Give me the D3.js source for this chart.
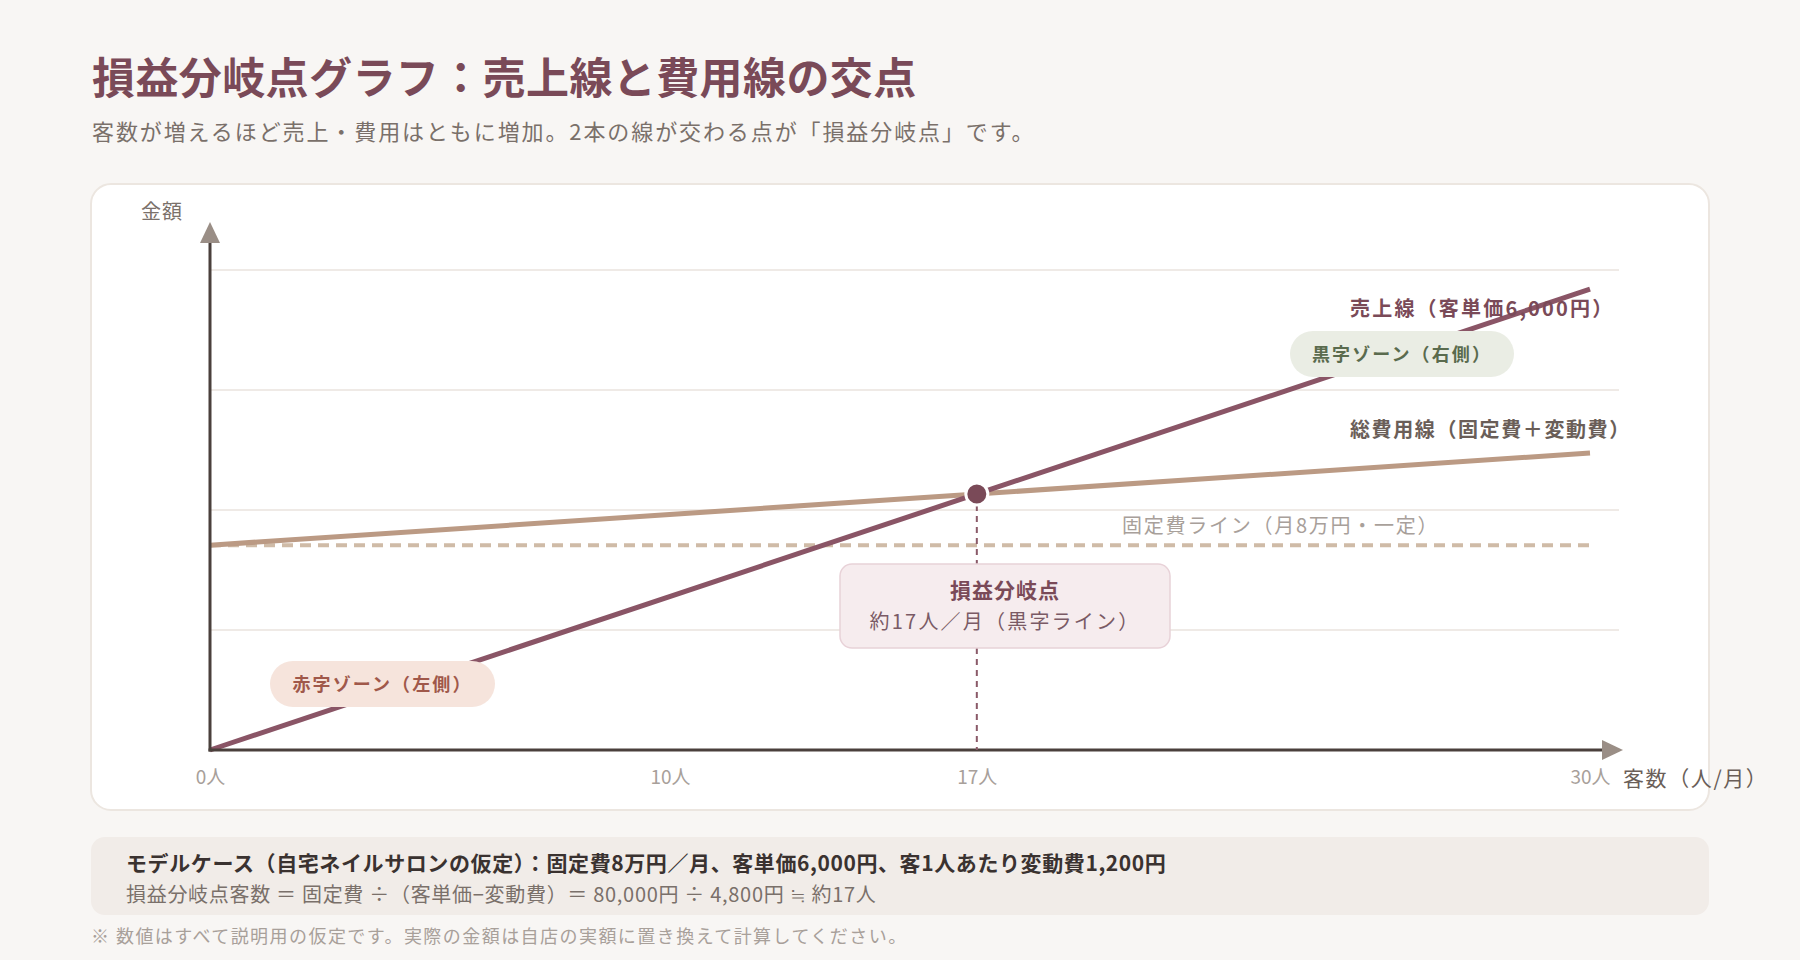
<!DOCTYPE html>
<html lang="ja">
<head>
<meta charset="utf-8">
<script src="https://cdn.jsdelivr.net/npm/d3@7"></script>
<style>
  html, body { margin: 0; padding: 0; background: #f8f6f4; }
  svg { display: block; font-family: "Noto Sans CJK JP", "Noto Sans", sans-serif; }
</style>
</head>
<body>
<svg id="chart"></svg>
<script>
// chart values
let lineX = [0, 30]                  // 客数（人/月）
let salesValues = [0, 180000]        // 売上線
let totalCostValues = [80000, 116000] // 総費用線
let fixedCostValues = [80000, 80000]  // 固定費ライン
let breakEvenPoint = [16.67, 100000]
let xTickValues = [0, 10, 16.67, 30]
let xTickLabels = ['0人', '10人', '17人', '30人']
let yMax = 187500

let width = 1800
let height = 960

let svg = d3.select('#chart')
    .attr('width', width)
    .attr('height', height)

let xScale = d3.scaleLinear().domain([0, 30]).range([210, 1590])
let yScale = d3.scaleLinear().domain([0, yMax]).range([750, 270])

// background + titles
svg.append('rect').attr('width', width).attr('height', height).attr('fill', '#f8f6f4')

svg.append('text')
    .attr('x', 92).attr('y', 94)
    .attr('font-size', 43).attr('font-weight', 700).attr('letter-spacing', 0.4)
    .attr('fill', '#7a4a58')
    .text('損益分岐点グラフ：売上線と費用線の交点')

svg.append('text')
    .attr('x', 92).attr('y', 140)
    .attr('font-size', 22).attr('letter-spacing', 1.9)
    .attr('fill', '#7a706a')
    .text('客数が増えるほど売上・費用はともに増加。2本の線が交わる点が「損益分岐点」です。')

// chart card
svg.append('rect')
    .attr('x', 91).attr('y', 184).attr('width', 1618).attr('height', 626)
    .attr('rx', 20)
    .attr('fill', '#ffffff').attr('stroke', '#ece6e0').attr('stroke-width', 2)

// grid
let gridValues = d3.range(1, 5).map(i => yMax * i / 4)
svg.append('g').selectAll('line')
    .data(gridValues)
    .enter()
    .append('line')
    .attr('x1', xScale(0)).attr('x2', 1619)
    .attr('y1', d => yScale(d)).attr('y2', d => yScale(d))
    .attr('stroke', '#efeae6').attr('stroke-width', 2)

// fixed cost dashed line
let line = d3.line()
    .x((d, i) => xScale(lineX[i]))
    .y(d => yScale(d))

svg.append('path')
    .attr('d', line(fixedCostValues))
    .attr('fill', 'none')
    .attr('stroke', '#cfbba7').attr('stroke-width', 4)
    .attr('stroke-dasharray', '11,7')

svg.append('text')
    .attr('x', 1122).attr('y', 533)
    .attr('font-size', 20).attr('letter-spacing', 1.75)
    .attr('fill', '#a8a09a')
    .text('固定費ライン（月8万円・一定）')

// total cost + sales lines
svg.append('path')
    .attr('d', line(totalCostValues))
    .attr('fill', 'none')
    .attr('stroke', '#bb9a84').attr('stroke-width', 5)

svg.append('path')
    .attr('d', line(salesValues))
    .attr('fill', 'none')
    .attr('stroke', '#8a5566').attr('stroke-width', 5)

svg.append('text')
    .attr('x', 1350).attr('y', 316)
    .attr('font-size', 20).attr('font-weight', 700).attr('letter-spacing', 2.2)
    .attr('fill', '#7a4a58')
    .text('売上線（客単価6,000円）')

svg.append('text')
    .attr('x', 1350).attr('y', 437)
    .attr('font-size', 20).attr('font-weight', 700).attr('letter-spacing', 1.6)
    .attr('fill', '#6a5e58')
    .text('総費用線（固定費＋変動費）')

// zone pills
let pill = (x, y, w, fill, color, label) => {
    let g = svg.append('g')
    g.append('rect')
        .attr('x', x).attr('y', y).attr('width', w).attr('height', 46)
        .attr('rx', 23).attr('fill', fill)
    g.append('text')
        .attr('x', x + w / 2).attr('y', y + 30)
        .attr('text-anchor', 'middle')
        .attr('font-size', 18).attr('font-weight', 700).attr('letter-spacing', 2.1)
        .attr('fill', color)
        .text(label)
}
pill(270, 661, 225, '#f6e4dc', '#a0584a', '赤字ゾーン（左側）')
pill(1290, 331, 224, '#eaede4', '#5a6b4e', '黒字ゾーン（右側）')

// axes
let axisColor = '#4a403c'
let arrowColor = '#9a8e86'

svg.append('line')
    .attr('x1', xScale(0)).attr('x2', xScale(0))
    .attr('y1', yScale(0) + 1.5).attr('y2', 242)
    .attr('stroke', axisColor).attr('stroke-width', 3)
svg.append('path')
    .attr('d', `M${xScale(0)},222 L${xScale(0) - 10},243 L${xScale(0) + 10},243 Z`)
    .attr('fill', arrowColor)

svg.append('line')
    .attr('x1', xScale(0) - 1.5).attr('x2', 1604)
    .attr('y1', yScale(0)).attr('y2', yScale(0))
    .attr('stroke', axisColor).attr('stroke-width', 3)
svg.append('path')
    .attr('d', `M1623,${yScale(0)} L1602,${yScale(0) - 10} L1602,${yScale(0) + 10} Z`)
    .attr('fill', arrowColor)

let xAxis = d3.axisBottom(xScale)
    .tickValues(xTickValues)
    .tickSize(0)
    .tickPadding(21)
    .tickFormat((d, i) => xTickLabels[i])

let xAxisG = svg.append('g')
    .attr('transform', 'translate(0,' + yScale(0) + ')')
    .call(xAxis)
xAxisG.select('.domain').remove()
xAxisG.selectAll('text')
    .attr('font-family', '"Noto Sans CJK JP", sans-serif')
    .attr('font-size', 19)
    .attr('fill', '#a8a09a')

svg.append('text')
    .attr('x', 141).attr('y', 219)
    .attr('font-size', 20).attr('letter-spacing', 1)
    .attr('fill', '#7a706a')
    .text('金額')

svg.append('text')
    .attr('x', 1623).attr('y', 786)
    .attr('font-size', 21).attr('letter-spacing', 1.6)
    .attr('fill', '#6a5e58')
    .text('客数（人/月）')

// break-even marker
let bx = xScale(breakEvenPoint[0])
let by = yScale(breakEvenPoint[1])

svg.append('line')
    .attr('x1', bx).attr('x2', bx)
    .attr('y1', by).attr('y2', yScale(0))
    .attr('stroke', '#8a5a68').attr('stroke-width', 2)
    .attr('stroke-dasharray', '6,5')

svg.append('circle')
    .attr('cx', bx).attr('cy', by).attr('r', 11)
    .attr('fill', '#7a4a58')
    .attr('stroke', '#ffffff').attr('stroke-width', 3)

svg.append('rect')
    .attr('x', 840).attr('y', 564).attr('width', 330).attr('height', 84)
    .attr('rx', 12)
    .attr('fill', '#f6ecee').attr('stroke', '#e8d2d8').attr('stroke-width', 1.5)

svg.append('text')
    .attr('x', 1005).attr('y', 598)
    .attr('text-anchor', 'middle')
    .attr('font-size', 21).attr('font-weight', 700).attr('letter-spacing', 1)
    .attr('fill', '#7a4a58')
    .text('損益分岐点')

svg.append('text')
    .attr('x', 1005).attr('y', 629)
    .attr('text-anchor', 'middle')
    .attr('font-size', 20).attr('letter-spacing', 2.2)
    .attr('fill', '#7a5a65')
    .text('約17人／月（黒字ライン）')

// model-case note
svg.append('rect')
    .attr('x', 91).attr('y', 837).attr('width', 1618).attr('height', 78)
    .attr('rx', 14)
    .attr('fill', '#f1ece8')

svg.append('text')
    .attr('x', 126).attr('y', 871)
    .attr('font-size', 21).attr('font-weight', 700).attr('letter-spacing', 0.6)
    .attr('fill', '#3a3230')
    .text('モデルケース（自宅ネイルサロンの仮定）：固定費8万円／月、客単価6,000円、客1人あたり変動費1,200円')

svg.append('text')
    .attr('x', 126).attr('y', 902)
    .attr('font-size', 20).attr('letter-spacing', 0.7)
    .attr('fill', '#7a706a')
    .text('損益分岐点客数 ＝ 固定費 ÷（客単価−変動費）＝ 80,000円 ÷ 4,800円 ≒ 約17人')

svg.append('text')
    .attr('x', 91).attr('y', 943)
    .attr('font-size', 18).attr('letter-spacing', 1.45)
    .attr('fill', '#a8a09a')
    .text('※ 数値はすべて説明用の仮定です。実際の金額は自店の実額に置き換えて計算してください。')
</script>
</body>
</html>
